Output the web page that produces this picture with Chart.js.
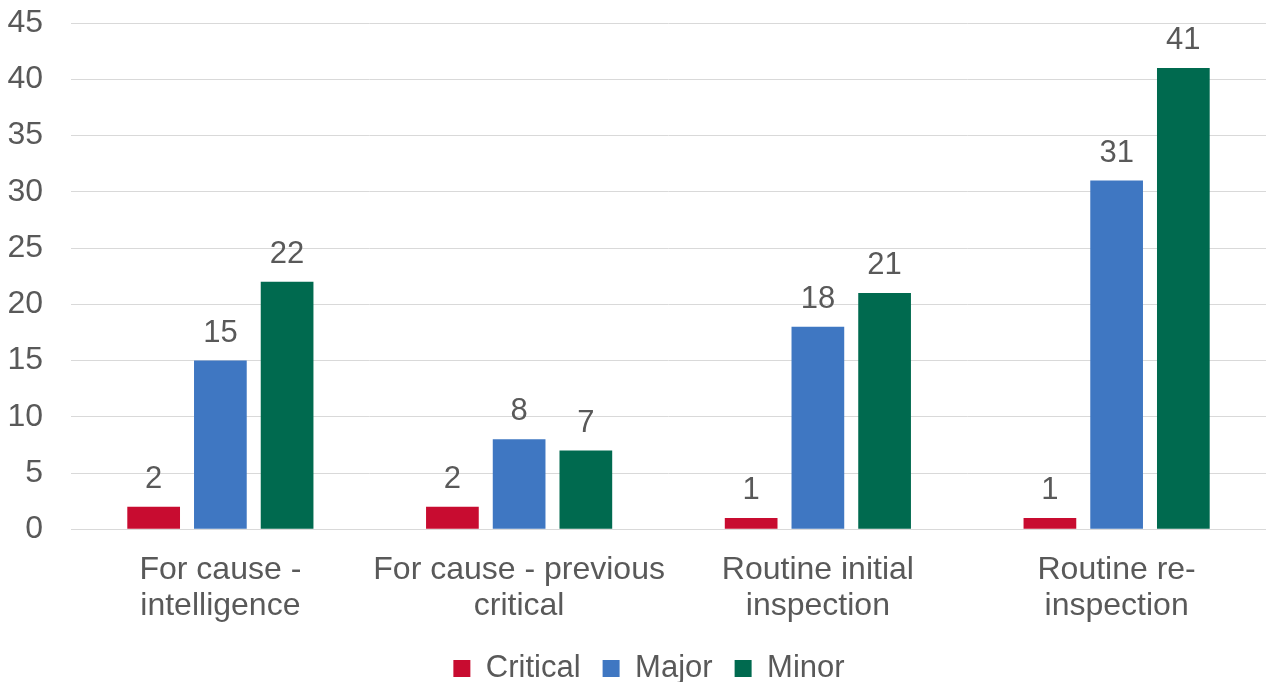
<!DOCTYPE html>
<html>
<head>
<meta charset="utf-8">
<script src="https://cdn.jsdelivr.net/npm/chart.js@4"></script>
<style>
  html, body { margin: 0; padding: 0; background: #fff; }
  #wrap { width: 1266px; height: 682px; }
</style>
</head>
<body>
<div id="wrap"><canvas id="inspectionChart"></canvas></div>
<script>
// categories and series
const categories = [
    ["For cause -", "intelligence"],
    ["For cause - previous", "critical"],
    ["Routine initial", "inspection"],
    ["Routine re-", "inspection"]
];
const critical = [2, 2, 1, 1];
const major = [15, 8, 18, 31];
const minor = [22, 7, 21, 41];

const yTicks = [0, 5, 10, 15, 20, 25, 30, 35, 40, 45];

const textColor = "#595959";
const fontFamily = "'Liberation Sans', Arial, sans-serif";

// value labels above each bar
const barLabels = {
    id: "barLabels",
    afterDatasetsDraw(chart) {
        const ctx = chart.ctx;
        ctx.save();
        ctx.font = "31px " + fontFamily;
        ctx.fillStyle = textColor;
        ctx.textAlign = "center";
        ctx.textBaseline = "bottom";
        chart.data.datasets.forEach(function (ds, i) {
            chart.getDatasetMeta(i).data.forEach(function (bar, j) {
                ctx.fillText(ds.data[j], bar.x, bar.y - 12);
            });
        });
        ctx.restore();
    }
};

// legend sits a bit right of centre in the original
const legendNudge = {
    id: "legendNudge",
    afterLayout(chart) {
        if (chart.legend) {
            chart.legend.left += 14;
            chart.legend.right += 14;
        }
    }
};

new Chart(document.getElementById("inspectionChart"), {
    type: "bar",
    data: {
        labels: categories,
        datasets: [
            { label: "Critical", data: critical, backgroundColor: "#C80C30" },
            { label: "Major", data: major, backgroundColor: "#3F77C2" },
            { label: "Minor", data: minor, backgroundColor: "#006A4F" }
        ]
    },
    options: {
        responsive: true,
        maintainAspectRatio: false,
        animation: false,
        datasets: {
            bar: { categoryPercentage: 0.67, barPercentage: 0.79 }
        },
        layout: { padding: { left: 4, right: 0, top: 23, bottom: -12 } },
        scales: {
            x: {
                grid: { display: false },
                border: { color: "#D9D9D9", width: 1 },
                afterFit(axis) {
                    axis.height -= 8;
                },
                ticks: {
                    color: textColor,
                    font: { size: 32, family: fontFamily, lineHeight: 1.12 },
                    padding: 15,
                    maxRotation: 0
                }
            },
            y: {
                min: 0,
                max: 45,
                afterBuildTicks(axis) {
                    axis.ticks = yTicks.map(v => ({ value: v }));
                },
                afterFit(axis) {
                    axis.width = 67;
                    axis.paddingTop = 0;
                    axis.paddingBottom = 0;
                },
                grid: { color: "#D9D9D9", lineWidth: 1, drawTicks: false },
                border: { display: false },
                ticks: {
                    color: textColor,
                    font: { size: 32, family: fontFamily },
                    padding: 28
                }
            }
        },
        plugins: {
            legend: {
                position: "bottom",
                labels: {
                    color: textColor,
                    font: { size: 31, family: fontFamily },
                    boxWidth: 17,
                    boxHeight: 17,
                    padding: 22
                }
            },
            tooltip: { enabled: false }
        }
    },
    plugins: [barLabels, legendNudge]
});
</script>
</body>
</html>
